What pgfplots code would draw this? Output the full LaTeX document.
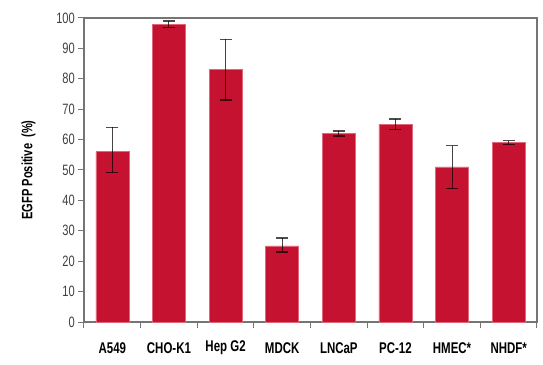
\documentclass[border=0pt]{standalone}
\usepackage{fontspec}
\setmainfont{Liberation Sans}[FakeStretch=0.74]
\usepackage{pgfplots}
\pgfplotsset{compat=1.18}
\definecolor{barred}{HTML}{C41230}
\definecolor{baredge}{HTML}{E0667A}
\definecolor{axgray}{HTML}{757575}
\begin{document}
\begin{tikzpicture}
\useasboundingbox (-84pt,-42pt) rectangle (459pt,322pt);
\begin{axis}[
  at={(0pt,0pt)}, anchor=south west,
  scale only axis, width=453pt, height=304pt,
  xmin=-0.5, xmax=7.5, ymin=0, ymax=100,
  clip=false,
  axis lines=box,
  xtick={0,...,7},
  xticklabels={A549,CHO-K1,Hep G2,MDCK,LNCaP,PC-12,HMEC*,NHDF*},
  major x tick style={draw=none},
  minor xtick={-0.5,0.5,...,7.5},
  ytick={0,10,...,100},
  xtick pos=bottom, ytick pos=left,
  tick align=outside,
  tick style={axgray, line width=1pt},
  major tick length=6pt, minor tick length=6pt,
  axis line style={axgray, line width=1.4pt},
  /pgf/number format/assume math mode=true,
  yticklabel style={font=\fontsize{15}{15}\selectfont, text=black!75, anchor=east, inner sep=0pt, xshift=-3pt},
  xticklabel style={font=\bfseries\fontsize{15.5}{15}\selectfont, text=black, anchor=center, inner sep=0pt, yshift=-20pt},
  every axis y label/.style={at={(axis description cs:-0.1225,0.5)}, anchor=center, rotate=90, font=\bfseries\fontsize{15}{15}\selectfont},
  ylabel={EGFP Positive\ \ (\%)},
]
\addplot[ybar, bar width=33pt, fill=barred, draw=baredge, line width=0.6pt,
  error bars/.cd, y dir=both, y explicit,
  error bar style={draw=black, draw opacity=0.7, line width=1pt},
  error mark options={rotate=90, draw=black, draw opacity=0.7, line width=1.2pt, mark size=6pt}]
coordinates {
  (0,56) += (0,8) -= (0,6.7)
  (1,98) += (0,1) -= (0,1.2)
  (2,83) += (0,10) -= (0,10)
  (3,25) += (0,2.6) -= (0,2)
  (4,62) += (0,0.8) -= (0,0.8)
  (5,65) += (0,1.8) -= (0,1.8)
  (6,51) += (0,7) -= (0,7)
  (7,59) += (0,0.7) -= (0,0.6)
};
\end{axis}
\end{tikzpicture}
\end{document}
